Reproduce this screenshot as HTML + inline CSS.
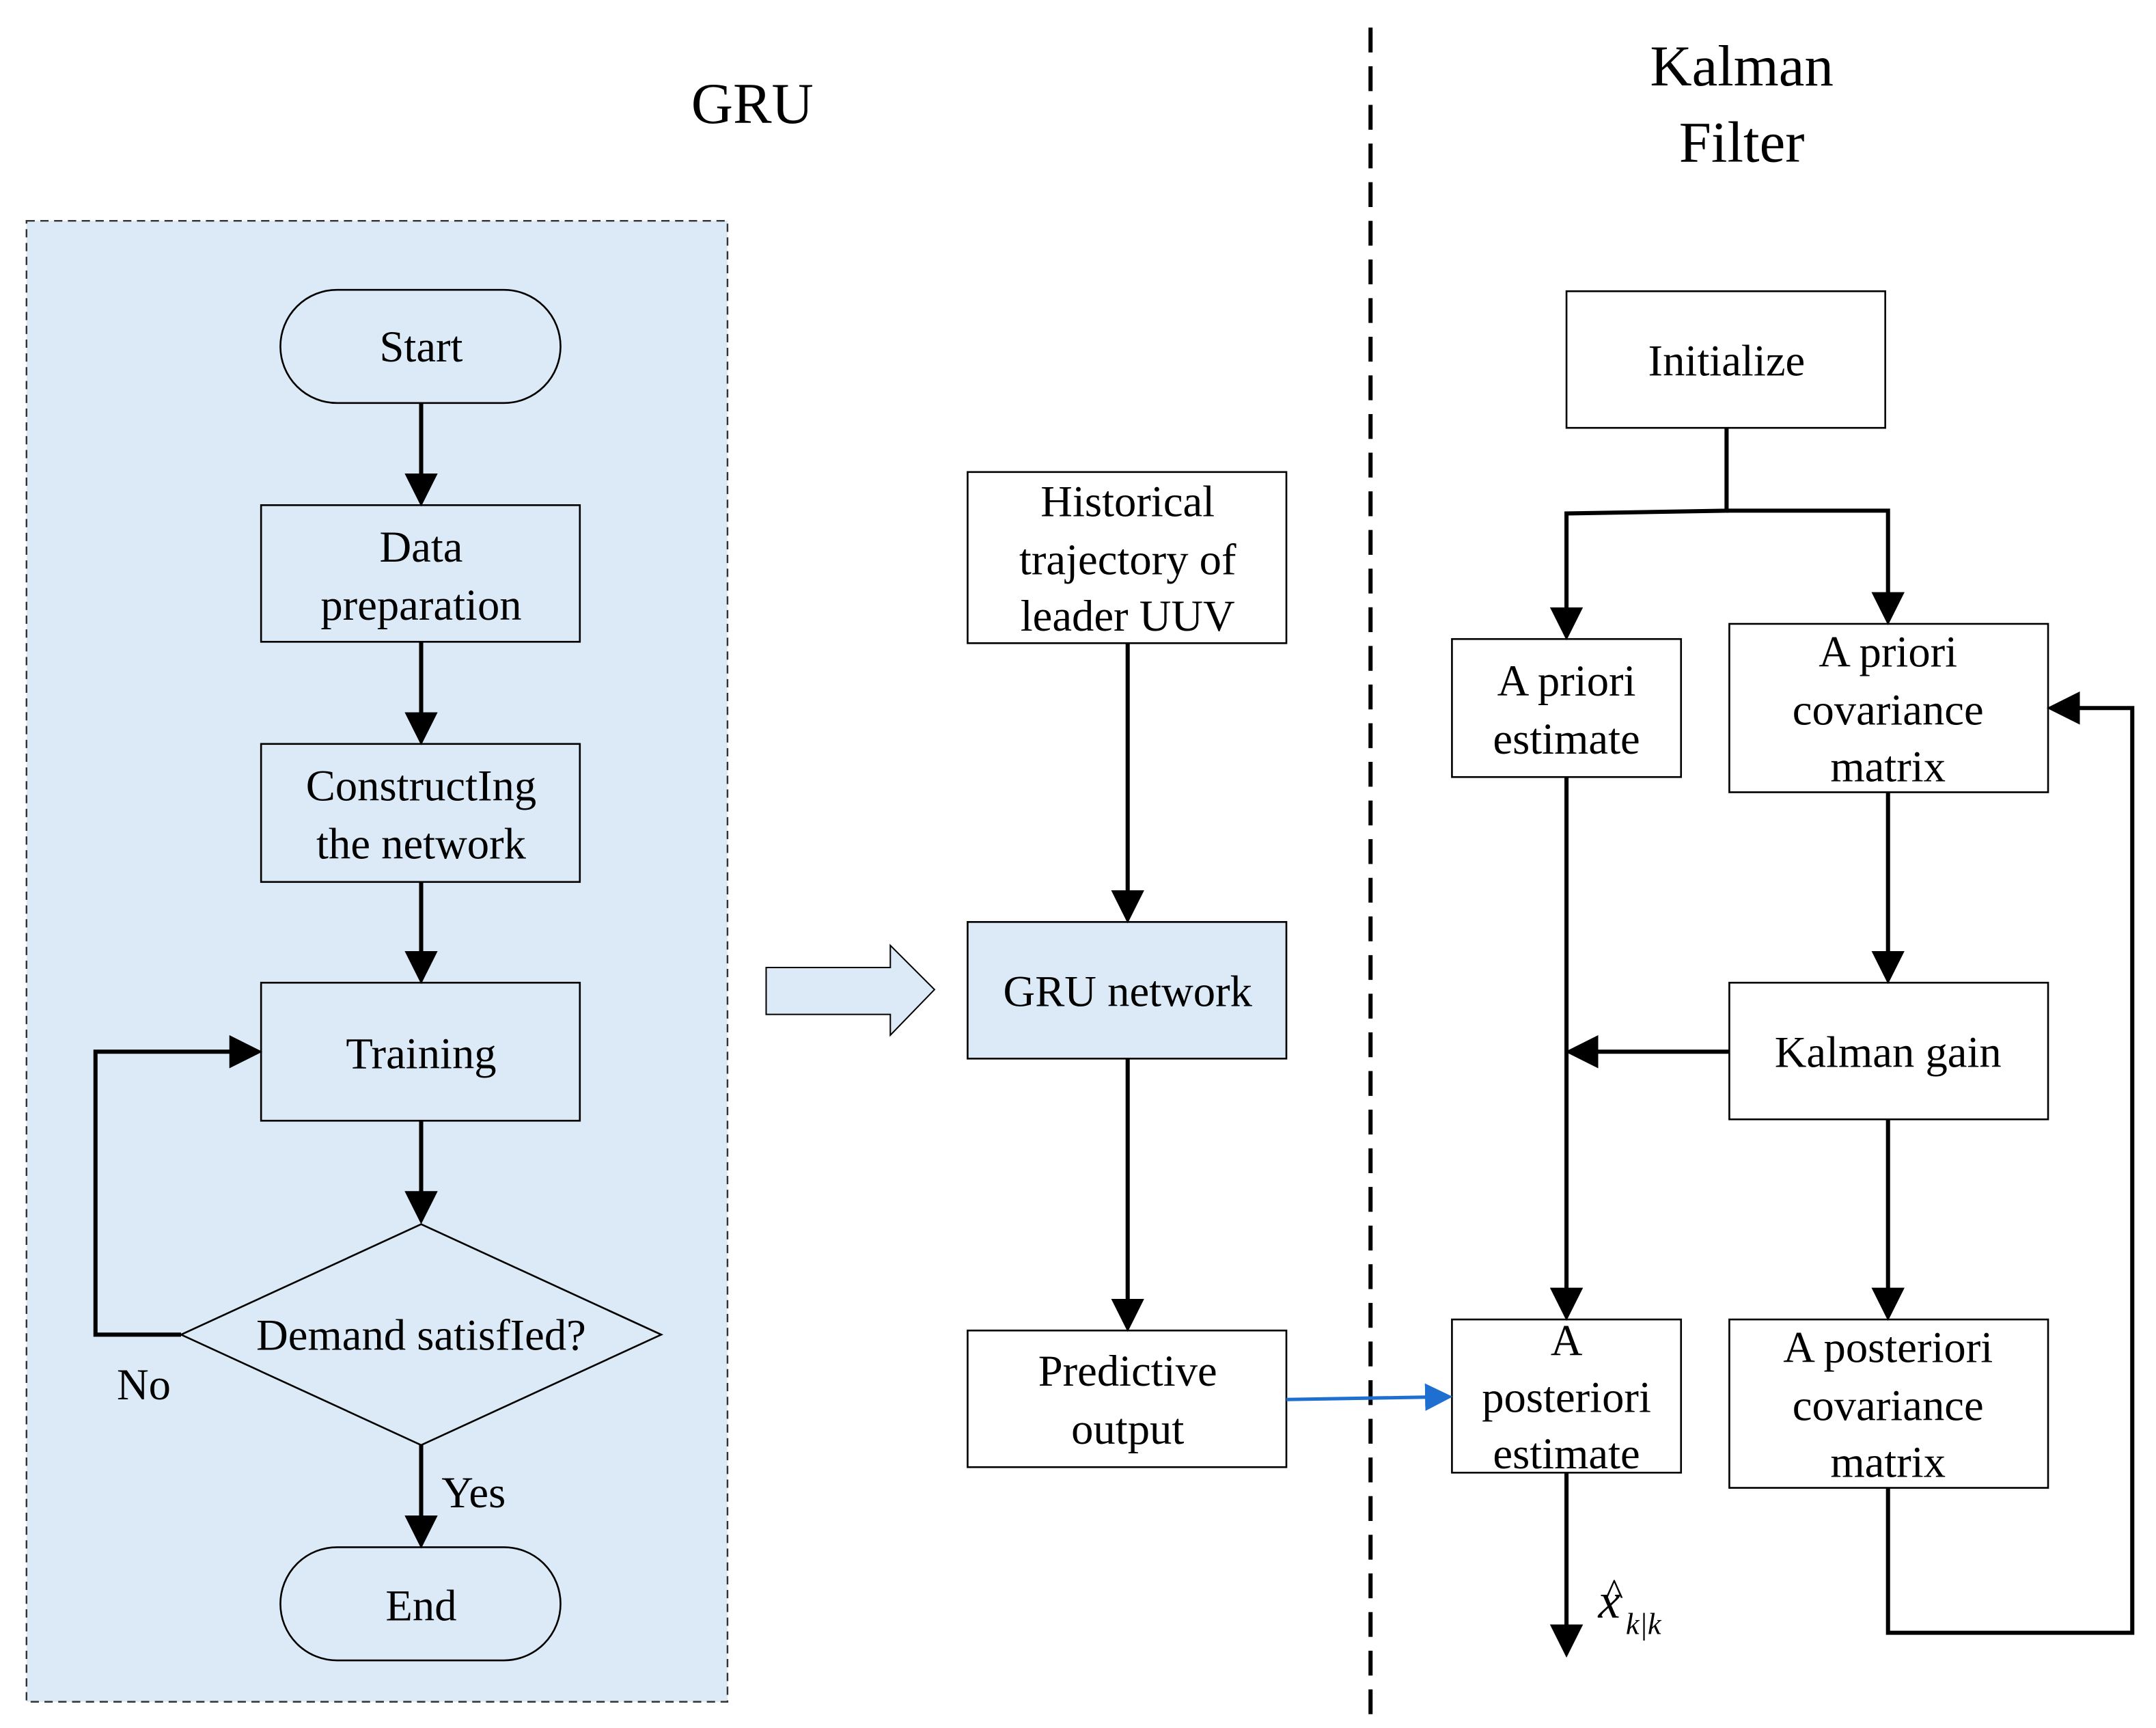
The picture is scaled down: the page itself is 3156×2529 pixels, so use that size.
<!DOCTYPE html>
<html><head><meta charset="utf-8"><style>
html,body{margin:0;padding:0;background:#fff;}
svg{display:block;}
text{font-family:"Liberation Serif",serif;fill:#000;}
</style></head><body>
<svg width="3156" height="2529" viewBox="0 0 1562 1252" xmlns="http://www.w3.org/2000/svg">
<defs>
<marker id="a" markerWidth="8" markerHeight="8" refX="7" refY="4" orient="auto" markerUnits="strokeWidth">
<path d="M0,0 L8,4 L0,8 z" fill="#000"/></marker>
<marker id="b" markerWidth="8" markerHeight="8" refX="7" refY="4" orient="auto" markerUnits="strokeWidth">
<path d="M0,0 L8,4 L0,8 z" fill="#1f6fd0"/></marker>
</defs>
<g font-size="32" text-anchor="middle">
<text x="545" y="89" font-size="42">GRU</text>
<text x="1262" y="62" font-size="42">Kalman</text>
<text x="1262" y="117" font-size="42">Filter</text>
</g>
<rect x="19" y="160" width="508" height="1073" fill="#dbeaf6" stroke="#333" stroke-width="1.2" stroke-dasharray="6,4"/>
<line x1="993" y1="20" x2="993" y2="1250" stroke="#000" stroke-width="3" stroke-dasharray="18,10"/>
<g fill="#dbeaf6" stroke="#000" stroke-width="1.3">
<rect x="203" y="210" width="203" height="82" rx="41"/>
<rect x="189" y="366" width="231" height="99"/>
<rect x="189" y="539" width="231" height="100"/>
<rect x="189" y="712" width="231" height="100"/>
<polygon points="131,967 305,887 479,967 305,1047"/>
<rect x="203" y="1121" width="203" height="82" rx="41"/>
<rect x="701" y="668" width="231" height="99"/>
<polygon points="555,701 645,701 645,685 677,717 645,750 645,735 555,735" stroke-width="1"/>
</g>
<g fill="#fff" stroke="#000" stroke-width="1.3">
<rect x="701" y="342" width="231" height="124"/>
<rect x="701" y="964" width="231" height="99"/>
<rect x="1135" y="211" width="231" height="99"/>
<rect x="1052" y="463" width="166" height="100"/>
<rect x="1253" y="452" width="231" height="122"/>
<rect x="1253" y="712" width="231" height="99"/>
<rect x="1052" y="956" width="166" height="111"/>
<rect x="1253" y="956" width="231" height="122"/>
</g>
<g stroke="#000" stroke-width="3" fill="none">
<line x1="305" y1="292" x2="305" y2="364" marker-end="url(#a)"/>
<line x1="305" y1="465" x2="305" y2="537" marker-end="url(#a)"/>
<line x1="305" y1="639" x2="305" y2="710" marker-end="url(#a)"/>
<line x1="305" y1="812" x2="305" y2="884" marker-end="url(#a)"/>
<line x1="305" y1="1047" x2="305" y2="1119" marker-end="url(#a)"/>
<polyline points="131,967 69,967 69,762 187,762" marker-end="url(#a)"/>
<line x1="817" y1="466" x2="817" y2="666" marker-end="url(#a)"/>
<line x1="817" y1="767" x2="817" y2="962" marker-end="url(#a)"/>
<polyline points="1251,310 1251,370 1135,372 1135,461" marker-end="url(#a)"/>
<polyline points="1251,370 1368,370 1368,450" marker-end="url(#a)"/>
<line x1="1368" y1="574" x2="1368" y2="710" marker-end="url(#a)"/>
<line x1="1253" y1="762" x2="1137" y2="762" marker-end="url(#a)"/>
<line x1="1135" y1="563" x2="1135" y2="954" marker-end="url(#a)"/>
<line x1="1368" y1="811" x2="1368" y2="954" marker-end="url(#a)"/>
<polyline points="1368,1078 1368,1183 1545,1183 1545,513 1486,513" marker-end="url(#a)"/>
<line x1="1135" y1="1067" x2="1135" y2="1198" marker-end="url(#a)"/>
</g>
<line x1="932" y1="1014" x2="1050" y2="1012" stroke="#1f6fd0" stroke-width="2.5" marker-end="url(#b)"/>
<g font-size="32" text-anchor="middle">
<text x="305" y="262">Start</text>
<text x="305" y="407">Data</text>
<text x="305" y="449">preparation</text>
<text x="305" y="580">ConstructIng</text>
<text x="305" y="622">the network</text>
<text x="305" y="774">Training</text>
<text x="305" y="978">Demand satisfIed?</text>
<text x="104" y="1014">No</text>
<text x="343" y="1092">Yes</text>
<text x="305" y="1174">End</text>
<text x="817" y="374">Historical</text>
<text x="817" y="416">trajectory of</text>
<text x="817" y="457">leader UUV</text>
<text x="817" y="729">GRU network</text>
<text x="817" y="1004">Predictive</text>
<text x="817" y="1046">output</text>
<text x="1251" y="272">Initialize</text>
<text x="1135" y="504">A priori</text>
<text x="1135" y="546">estimate</text>
<text x="1368" y="483">A priori</text>
<text x="1368" y="525">covariance</text>
<text x="1368" y="566">matrix</text>
<text x="1368" y="773">Kalman gain</text>
<text x="1135" y="982">A</text>
<text x="1135" y="1023">posteriori</text>
<text x="1135" y="1064">estimate</text>
<text x="1368" y="987">A posteriori</text>
<text x="1368" y="1029">covariance</text>
<text x="1368" y="1070">matrix</text>
</g>
<text x="1158" y="1172" font-size="36" font-style="italic">x</text>
<text x="1163" y="1163" font-size="28">^</text>
<text x="1178" y="1184" font-size="22" font-style="italic">k|k</text>
</svg>
</body></html>
